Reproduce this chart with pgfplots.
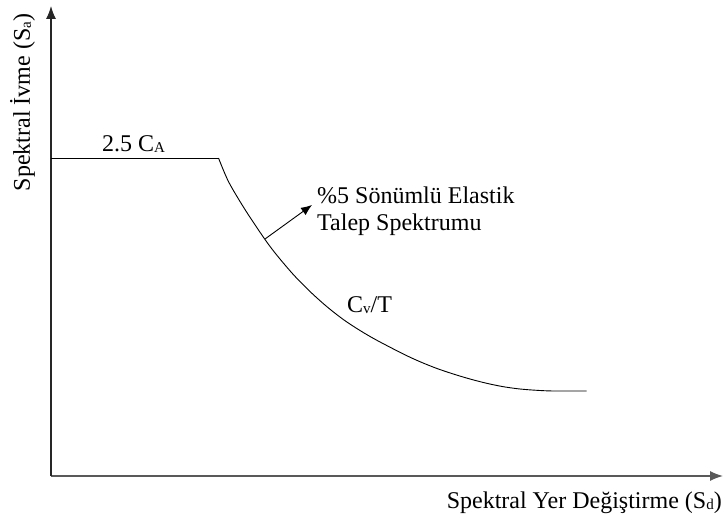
\documentclass[border=0pt]{standalone}
\usepackage{pgfplots}
\pgfplotsset{compat=1.18}
\usepackage{fontspec}
\setmainfont{Liberation Serif}
\usetikzlibrary{arrows.meta}
\newcommand\lbl{\fontsize{24}{27}\selectfont}
\newcommand\sub[1]{\raisebox{-1pt}{\fontsize{15}{15}\selectfont #1}}
\begin{document}
\begin{tikzpicture}
\begin{axis}[
  scale only axis, width=672pt, height=470pt,
  xmin=0, xmax=672, ymin=0, ymax=470,
  enlargelimits=false, clip=false,
  axis lines=left,
  x axis line style={-{Latex[length=13pt,width=10pt]}, black!65, line width=1.3pt},
  y axis line style={-{Latex[length=13pt,width=10pt]}, black!85, line width=1.1pt},
  xtick=\empty, ytick=\empty,
]
\addplot[black, line width=0.9pt] coordinates {(0,318) (167.5,318)};
\addplot[black, line width=0.9pt, smooth, tension=0.5] coordinates {
(167.5,318) (177.7,294) (194.3,266) (214,236.5) (225.7,221) (242.3,201.5)
(259,184.5) (275.7,169.5) (292.3,156.5) (309,145.5) (325.7,135.8)
(352.3,122) (369,114.3) (385.7,107.6) (402.3,102) (419,97) (435.7,92.7)
(452.3,89.3) (469,87) (485.7,85.7) (502.3,85) (535.7,85)};
\addplot[black, line width=0.9pt, -{Latex[length=11pt,width=9pt]}] coordinates {(214,237) (261,271)};
\node[font=\lbl, inner sep=0pt, anchor=base west] at (axis cs:51,324) {2.5 C\sub{A}};
\node[font=\lbl, inner sep=0pt, anchor=base west] at (axis cs:266,273) {\%5 Sönümlü Elastik};
\node[font=\lbl, inner sep=0pt, anchor=base west] at (axis cs:266,246) {Talep Spektrumu};
\node[font=\lbl, inner sep=0pt, anchor=base west] at (axis cs:296,164) {C\sub{v}/T};
\node[font=\lbl, inner sep=0pt, anchor=base east] at (axis cs:671,-32) {Spektral Yer Değiştirme (S\sub{d})};
\node[font=\lbl, inner sep=0pt, anchor=base, rotate=90] at (axis cs:-21,373.5) {Spektral İvme (S\sub{a})};
\end{axis}
\pgfresetboundingbox
\path (-51pt,-47pt) rectangle (672pt,476pt);
\end{tikzpicture}
\end{document}
